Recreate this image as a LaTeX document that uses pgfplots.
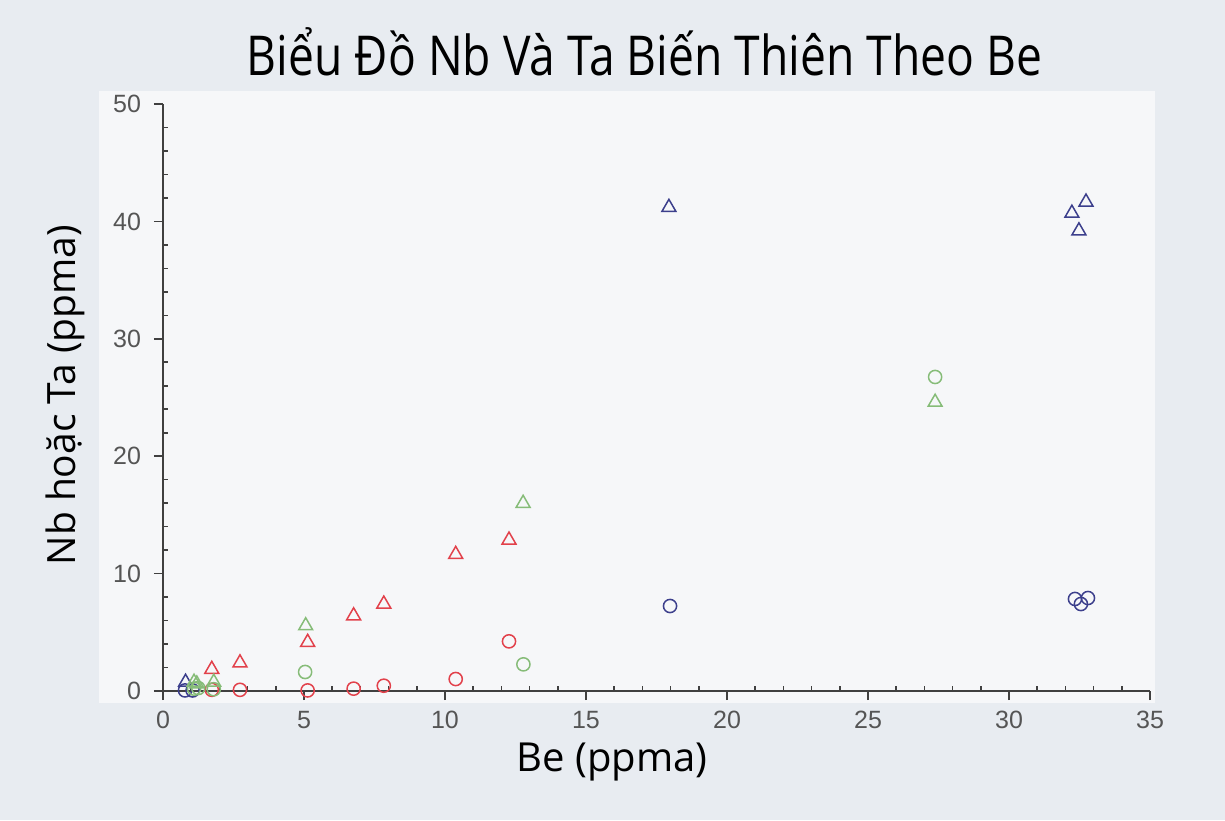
\documentclass[border=0pt]{standalone}
\usepackage{pgfplots}
\pgfplotsset{compat=1.18}
\usepackage{fontspec}
\setmainfont{Open Sans}
\newfontfamily\titlefont[FakeStretch=0.84]{Open Sans}
\newfontfamily\tickfont{Liberation Sans}

\definecolor{pagebg}{HTML}{E8ECF1}
\definecolor{plotbg}{HTML}{F6F7F9}
\definecolor{axisgray}{HTML}{404040}
\definecolor{ticktext}{HTML}{555555}
\definecolor{navy}{HTML}{3C3F8C}
\definecolor{redpt}{HTML}{E2414B}
\definecolor{greenpt}{HTML}{86BC78}

\begin{document}
\begin{tikzpicture}
\path[use as bounding box] (-81.5pt,-64.5pt) rectangle (531pt,345.5pt);
\fill[pagebg] (-81.5pt,-64.5pt) rectangle (531pt,345.5pt);
\fill[plotbg] (-32pt,-6pt) rectangle (496pt,300pt);
\begin{axis}[
    at={(0,0)}, anchor=south west,
    scale only axis,
    width=493.5pt, height=293.5pt,
    xmin=0, xmax=35, ymin=0, ymax=50,
    axis lines*=left,
    axis line style={axisgray, line width=0.9pt},
    xtick={0,5,...,35}, ytick={0,10,...,50},
    minor x tick num=4, minor y tick num=4,
    tick align=outside,
    major tick length=4.5pt, minor tick length=2.5pt,
    every tick/.style={axisgray, line width=0.8pt},
    minor x tick style={yshift=2.5pt},
    minor y tick style={xshift=2.5pt},
    tick label style={font=\tickfont\fontsize{12.5}{14}\selectfont, text=ticktext},
    /pgf/number format/assume math mode=true,
    xticklabel style={yshift=-2pt},
    yticklabel style={xshift=-3pt},
    clip=false,
    title={\titlefont\fontsize{27.5}{32}\selectfont Biểu Đồ Nb Và Ta Biến Thiên Theo Be},
    title style={at={(0.488,1.068)}, anchor=center},
    xlabel={\fontsize{20}{24}\selectfont Be (ppma)},
    xlabel style={at={(0.455,-0.121)}, anchor=center},
    ylabel={\fontsize{19.5}{24}\selectfont Nb hoặc Ta (ppma)},
    ylabel style={at={(-0.099,0.504)}, anchor=center},
    every axis plot/.append style={only marks, line width=0.75pt},
]
% blue triangles
\addplot[navy, mark=triangle, mark size=4pt] coordinates {
  (0.8,0.75) (17.94,41.2) (32.23,40.7) (32.73,41.65) (32.48,39.2)};
% blue circles
\addplot[navy, mark=o, mark size=3.3pt] coordinates {
  (0.78,0.05) (1.05,0.05) (17.98,7.24) (32.34,7.84) (32.55,7.41) (32.8,7.92)};
% red triangles
\addplot[redpt, mark=triangle, mark size=4pt] coordinates {
  (1.73,1.85) (2.73,2.4) (5.13,4.15) (6.76,6.41) (7.83,7.41) (10.38,11.64) (12.27,12.86)};
% red circles
\addplot[redpt, mark=o, mark size=3.3pt] coordinates {
  (1.73,0.1) (2.73,0.1) (5.13,0.05) (6.76,0.2) (7.83,0.45) (10.38,1.02) (12.27,4.23)};
% green triangles
\addplot[greenpt, mark=triangle, mark size=4pt] coordinates {
  (1.1,0.75) (1.2,0.6) (1.8,0.75) (5.06,5.56) (12.77,15.99) (27.38,24.6)};
% green circles
\addplot[greenpt, mark=o, mark size=3.3pt] coordinates {
  (1.1,0.2) (1.25,0.25) (1.8,0.15) (5.04,1.62) (12.78,2.27) (27.38,26.75)};
\end{axis}
\end{tikzpicture}
\end{document}
